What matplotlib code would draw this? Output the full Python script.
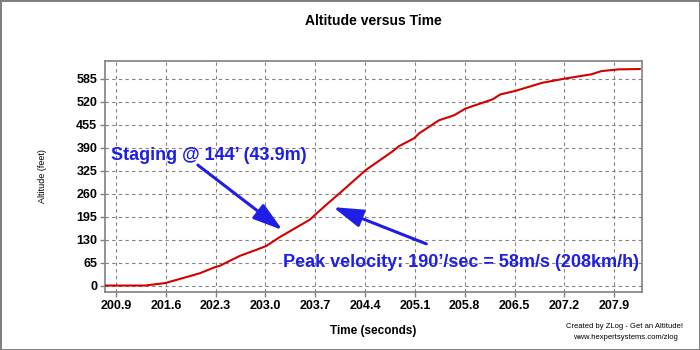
import matplotlib
matplotlib.use('Agg')
from matplotlib import pyplot as plt

# flight data
time_s = [200.75, 201.31, 201.59, 201.89, 202.08, 202.29, 202.36, 202.64, 202.87,
          203.01, 203.2, 203.62, 203.85, 204.04, 204.41, 204.78, 204.88, 205.09,
          205.16, 205.44, 205.65, 205.81, 206.19, 206.3, 206.51, 206.89, 207.21,
          207.58, 207.72, 207.96, 208.26]
alt_ft = [0, 0, 7, 24, 35, 52, 56, 84, 101,
          112, 137, 186, 228, 261, 327, 379, 395, 417,
          431, 468, 482, 501, 527, 541, 551, 574, 586,
          598, 607, 612, 613]

x_ticks = [200.9, 201.6, 202.3, 203.0, 203.7, 204.4, 205.1, 205.8, 206.5, 207.2, 207.9]
y_ticks = [0, 65, 130, 195, 260, 325, 390, 455, 520, 585]

staging_label = "Staging @ 144\u2019 (43.9m)"
peak_label = "Peak velocity: 190\u2019/sec = 58m/s (208km/h)"

plt.rcParams['font.family'] = ['Liberation Sans', 'DejaVu Sans']

fig = plt.figure(figsize=(7, 3.5), dpi=100, edgecolor='#808080', linewidth=2)
ax = fig.add_axes([0.15, 0.166, 0.767, 0.66])

ax.plot(time_s, alt_ft, color='#d40000', lw=1.5, zorder=3)

ax.set_xlim(200.745, 208.29)
ax.set_ylim(-18, 636)
ax.set_xticks(x_ticks)
ax.set_xticklabels(['%.1f' % t for t in x_ticks])
ax.set_yticks(y_ticks)
ax.tick_params(length=3.5, width=1, color='#808080', pad=2, labelsize=9)
for lbl in ax.get_xticklabels() + ax.get_yticklabels():
    lbl.set_fontweight('bold')
ax.grid(True, color='#808080', linestyle=(0, (3, 3)), lw=0.8)
for sp in ax.spines.values():
    sp.set_color('#808080')
    sp.set_linewidth(1.2)

ax.set_xlabel('Time (seconds)', fontsize=8.5, fontweight='bold', labelpad=10)
ax.set_ylabel('Altitude (feet)', fontsize=6.5, labelpad=21)
fig.text(0.533, 0.94, 'Altitude versus Time', ha='center', va='center',
         fontsize=10, fontweight='bold')

blue = '#1e1ee6'
ax.text(200.83, 369, staging_label, color=blue, fontsize=13,
        fontweight='bold', va='center', ha='left', zorder=5)
ax.text(203.24, 64, peak_label, color=blue, fontsize=13,
        fontweight='bold', va='center', ha='left', zorder=5)
arrow = dict(arrowstyle='-|>,head_length=1.8,head_width=0.55', color=blue,
             lw=2.2, shrinkA=0, shrinkB=0)
ax.annotate('', xy=(203.24, 157), xytext=(202.05, 341), arrowprops=arrow, zorder=5)
ax.annotate('', xy=(203.95, 222), xytext=(205.26, 118), arrowprops=arrow, zorder=5)

fig.text(0.976, 0.068, 'Created by ZLog - Get an Altitude!', ha='right',
         va='center', fontsize=5.5)
fig.text(0.969, 0.036, 'www.hexpertsystems.com/zlog', ha='right',
         va='center', fontsize=5.5)

plt.savefig('out.png', dpi=100)
